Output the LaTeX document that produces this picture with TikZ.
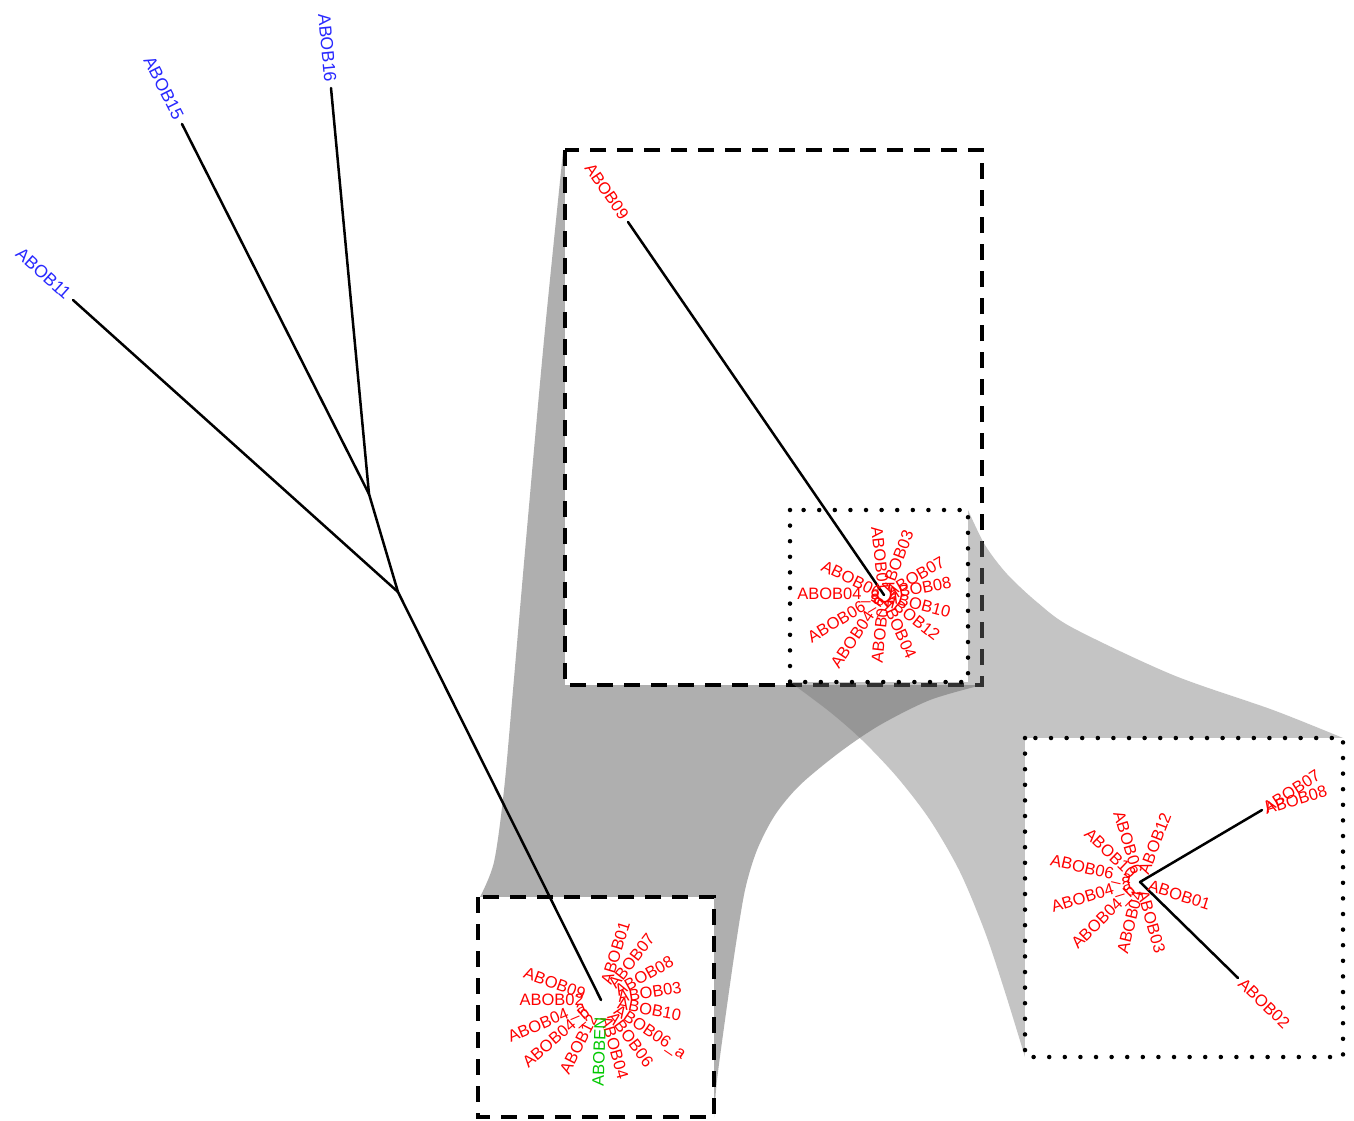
\documentclass[tikz,border=0pt]{standalone}
\usepackage{fontspec}
\setmainfont{Liberation Sans}
\usetikzlibrary{calc}
\definecolor{lblred}{RGB}{255,0,0}
\definecolor{lblblue}{RGB}{40,40,255}
\definecolor{lblgreen}{RGB}{0,200,0}
\definecolor{shadeA}{RGB}{175,175,175}
\definecolor{shadeB}{RGB}{116,116,116}
\begin{document}
\begin{tikzpicture}[x=1pt,y=-1pt,
  redlab/.style={text=lblred, inner sep=0pt, font=\fontsize{16.5}{16.5}\selectfont},
  bluelab/.style={text=lblblue, inner sep=0pt, font=\fontsize{17.5}{17.5}\selectfont},
  greenlab/.style={text=lblgreen, inner sep=0pt, font=\fontsize{16.5}{16.5}\selectfont},
  branch/.style={line width=2.5pt, draw=black, line cap=round, line join=round},
  dashbox/.style={draw=black, fill=white, line width=3.5pt, dash pattern=on 16pt off 11pt},
  dotbox/.style={draw=black, fill=white, line width=4.5pt, line cap=round, dash pattern=on 0pt off 15.6pt},
]
\path[use as bounding box, fill=white] (0,0) rectangle (1354,1121);

% grey funnel from bottom box to the dashed box
\fill[shadeA] plot[smooth] coordinates {(480,897) (494,862) (504,790) (513,690) (526,540) (544,340) (563,152)}
  -- (982,685)
  -- plot[smooth] coordinates {(982,685) (930,700) (880,725) (840,752) (800,785) (775,815) (757,850) (745,890) (735,950) (725,1020) (717,1080) (714,1117)}
  -- cycle;

\path[dashbox] (478,897) rectangle (714,1117);
\path[dashbox] (565,150) rectangle (982,685);

% grey funnel from the dotted box to the right box
\fill[shadeB, fill opacity=0.425] plot[smooth] coordinates {(790,682) (830,712) (862,740) (897,777) (930,820) (960,872) (985,932) (1005,992) (1025,1057)}
  -- (1343,738)
  -- plot[smooth] coordinates {(1343,738) (1273,710) (1173,675) (1073,628) (1038,603) (1007,574) (985,545) (968,510)}
  -- cycle;

\path[dotbox] (790,510) rectangle (968,682);
\path[dotbox] (1025,738) rectangle (1343,1057);

% tree coordinates
\coordinate (t16) at (331,88);
\coordinate (t15) at (182,124);
\coordinate (t11) at (73,300);
\coordinate (n1) at (369,494);
\coordinate (n2) at (398,592);
\coordinate (cb) at (601,1000);
\coordinate (cm) at (884,595);
\coordinate (t09) at (628,222);
\coordinate (cr) at (1140,882);
\coordinate (t78) at (1262,810);
\coordinate (t02) at (1238,978);

\draw[branch] (t16) -- (n1) -- (n2) -- (cb);
\draw[branch] (t15) -- (n1);
\draw[branch] (t11) -- (n2);
\draw[branch] (t09) -- (cm);
\draw[branch] (t78) -- (cr) -- (t02);

% blue tip labels
\node[bluelab, rotate=-84.65, anchor=east] (l16) at ($(t16)+(95.35:6pt)$) {ABOB16};
\node[bluelab, rotate=-63.2, anchor=east] (l15) at ($(t15)+(116.8:6pt)$) {ABOB15};
\node[bluelab, rotate=-41.94, anchor=east] (l11) at ($(t11)+(138.06:6pt)$) {ABOB11};

% middle panel
\node[redlab, rotate=-55.5, anchor=east] (l09) at ($(t09)+(124.5:5pt)$) {ABOB09};
\foreach \a/\t/\n in {69/ABOB03/m1, 30/ABOB07/m2, 11/ABOB08/m3, -15/ABOB10/m4, -38/ABOB12/m5, -66/ABOB04/m6}
  \node[redlab, rotate=\a, anchor=west] (\n) at ($(cm)+(\a:4pt)$) {\t};
\foreach \a/\t/\n in {96/ABOB01/m7, -96/ABOB02/m8, -124/ABOB04\_b/m9, -149/ABOB06\_a/m10, 180/ABOB04\_a/m11, 154/ABOB06/m12}
  \node[redlab, rotate=\a+180, anchor=east] (\n) at ($(cm)+(\a:4pt)$) {\t};

% right panel
\node[redlab, rotate=33, anchor=west] (r07) at ($(t78)+(33:3pt)$) {ABOB07};
\node[redlab, rotate=17, anchor=west] (r08) at ($(t78)+(17:3pt)$) {ABOB08};
\node[redlab, rotate=-44, anchor=west] (r02) at ($(t02)+(-44:4pt)$) {ABOB02};
\foreach \a/\t/\n in {69/ABOB12/r1, -18/ABOB01/r2, -74/ABOB03/r3}
  \node[redlab, rotate=\a, anchor=west] (\n) at ($(cr)+(\a:9pt)$) {\t};
\foreach \a/\t/\n in {107/ABOB06/r4, 136/ABOB10/r5, 167/ABOB06\_a/r6, -163/ABOB04\_a/r7, -135/ABOB04\_b/r8, -104/ABOB04/r9}
  \node[redlab, rotate=\a+180, anchor=east] (\n) at ($(cr)+(\a:9pt)$) {\t};

% bottom panel
\foreach \a/\t/\n in {73/ABOB01/b1, 52/ABOB07/b2, 29/ABOB08/b3, 9/ABOB03/b4, -11/ABOB10/b5, -34/ABOB06\_a/b6, -53/ABOB06/b7, -74/ABOB04/b8}
  \node[redlab, rotate=\a, anchor=west] (\n) at ($(cb)+(\a:17pt)$) {\t};
\foreach \a/\t/\n in {-117/ABOB12/b10, -139/ABOB04\_b/b11, -157/ABOB04\_a/b12, 180/ABOB02/b13, 160/ABOB09/b14}
  \node[redlab, rotate=\a+180, anchor=east] (\n) at ($(cb)+(\a:17pt)$) {\t};
\node[greenlab, rotate=88, anchor=east] (b9) at ($(cb)+(-92:17pt)$) {ABOBEN};
\end{tikzpicture}
\end{document}
